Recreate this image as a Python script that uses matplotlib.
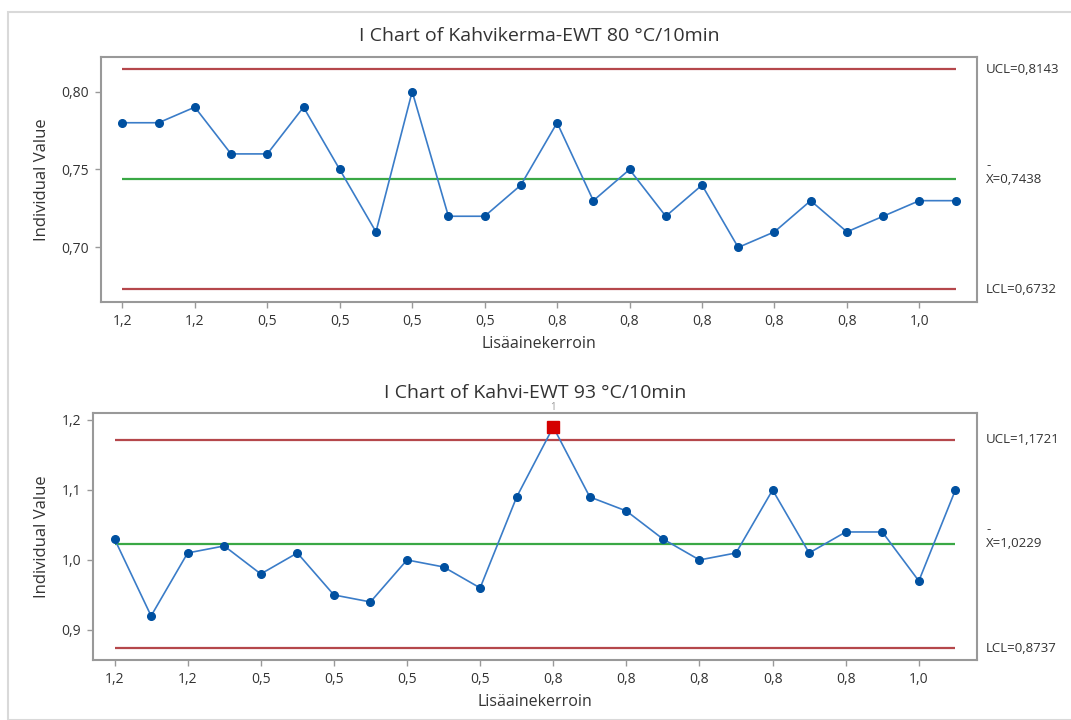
import matplotlib.pyplot as plt
from matplotlib.patches import Rectangle

plt.rcParams['font.family'] = ['Open Sans', 'DejaVu Sans']

# Lisäainekerroin tick labels (every second observation)
tick_labels = ['1,2', '1,2', '0,5', '0,5', '0,5', '0,5',
               '0,8', '0,8', '0,8', '0,8', '0,8', '1,0']

# Kahvikerma-EWT 80 °C/10min
kerma = [0.78, 0.78, 0.79, 0.76, 0.76, 0.79, 0.75, 0.71, 0.80, 0.72, 0.72, 0.74,
         0.78, 0.73, 0.75, 0.72, 0.74, 0.70, 0.71, 0.73, 0.71, 0.72, 0.73, 0.73]
kerma_limits = [0.8143, 0.7438, 0.6732]  # UCL, mean, LCL

# Kahvi-EWT 93 °C/10min
kahvi = [1.03, 0.92, 1.01, 1.02, 0.98, 1.01, 0.95, 0.94, 1.00, 0.99, 0.96, 1.09,
         1.19, 1.09, 1.07, 1.03, 1.00, 1.01, 1.10, 1.01, 1.04, 1.04, 0.97, 1.10]
kahvi_limits = [1.1721, 1.0229, 0.8737]
kahvi_out = [12]  # point above UCL

charts = [
    dict(title='I Chart of Kahvikerma-EWT 80 °C/10min', data=kerma, lim=kerma_limits,
         out=[], rect=[0.0943, 0.5806, 0.8179, 0.3407], ylim=(0.665, 0.8224),
         yticks=[0.70, 0.75, 0.80], yfmt='{:.2f}',
         labels=['UCL=0,8143', '0,7438', 'LCL=0,6732']),
    dict(title='I Chart of Kahvi-EWT 93 °C/10min', data=kahvi, lim=kahvi_limits,
         out=kahvi_out, rect=[0.0868, 0.0833, 0.8254, 0.3426], ylim=(0.857, 1.2095),
         yticks=[0.9, 1.0, 1.1, 1.2], yfmt='{:.1f}',
         labels=['UCL=1,1721', '1,0229', 'LCL=0,8737']),
]

fig = plt.figure(figsize=(10.71, 7.2), dpi=100)
fig.patches.append(Rectangle((8 / 1071, 0), 1.1, 1 - 12 / 720, transform=fig.transFigure,
                             fill=False, edgecolor='#d9d9d9', linewidth=1.5))

grey = '#999999'
text_col = '#333333'
for c in charts:
    ax = fig.add_axes(c['rect'])
    n = len(c['data'])
    x = list(range(n))
    ucl, cl, lcl = c['lim']
    ax.hlines([ucl, lcl], 0, n - 1, colors='#b5474b', linewidth=1.6)
    ax.hlines(cl, 0, n - 1, colors='#3aa845', linewidth=1.6)
    ax.plot(x, c['data'], color='#3a7cc8', linewidth=1.2, marker='o',
            markersize=5.5, markerfacecolor='#0050a0', markeredgecolor='#0050a0')
    for i in c['out']:
        ax.plot(i, c['data'][i], marker='s', markersize=8.5, color='#d40000', zorder=5)
        ax.text(i, c['ylim'][1], '1', ha='center', va='bottom', fontsize=7, color='#999999')
    ax.set_xlim(-0.59, n - 1 + 0.59)
    ax.set_ylim(*c['ylim'])
    ax.set_xticks(x[::2])
    ax.set_xticklabels(tick_labels, fontsize=10, color=text_col)
    ax.set_yticks(c['yticks'])
    ax.set_yticklabels([c['yfmt'].format(v).replace('.', ',') for v in c['yticks']],
                       fontsize=10, color=text_col)
    for s in ax.spines.values():
        s.set_color(grey)
        s.set_linewidth(1.5)
    ax.tick_params(colors=grey, length=4, width=1, pad=4.5)
    ax.tick_params(axis='both', labelcolor=text_col)
    ax.set_title(c['title'], fontsize=14, color=text_col, pad=11)
    ax.set_xlabel('Lisäainekerroin', fontsize=11.5, color=text_col, labelpad=5)
    ax.set_ylabel('Individual Value', fontsize=12, color=text_col, labelpad=8)
    tr = ax.get_yaxis_transform()
    ax.text(1.01, ucl, c['labels'][0], transform=tr, fontsize=9.5, color=text_col, va='center')
    ax.text(1.01, lcl, c['labels'][2], transform=tr, fontsize=9.5, color=text_col, va='center')
    ax.text(1.01, cl, 'X=' + c['labels'][1], transform=tr, fontsize=9.5, color=text_col,
            va='center')
    ax.annotate('-', xy=(1.011, cl), xycoords=tr, xytext=(0, 10), textcoords='offset points',
                fontsize=9.5, color=text_col, va='center')

fig.savefig('out.png', dpi=100)
